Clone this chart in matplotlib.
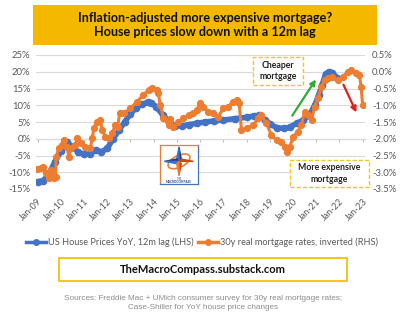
import matplotlib
matplotlib.use("Agg")
import matplotlib.pyplot as plt
import matplotlib.patches as patches
from matplotlib.lines import Line2D

plt.rcParams['font.family'] = ['Lato', 'DejaVu Sans']

# Daten, x = Jahr als Dezimalzahl
house_x = [2009.0, 2009.25, 2009.5, 2009.75, 2010.0, 2010.25, 2010.5, 2010.75,
           2011.0, 2011.25, 2011.5, 2011.75, 2012.0, 2012.25, 2012.5, 2012.75,
           2013.0, 2013.25, 2013.5, 2013.75, 2013.9, 2014.1, 2014.4, 2014.7,
           2014.9, 2015.2, 2015.5, 2015.85, 2016.2, 2016.6, 2017.0, 2017.5,
           2018.0, 2018.3, 2018.55, 2018.8, 2019.0, 2019.3, 2019.6, 2019.85,
           2020.15, 2020.45, 2020.7, 2020.95, 2021.1, 2021.25, 2021.4, 2021.55,
           2021.7, 2021.9]
house_yoy = [-12.8, -12.5, -10.3, -6.8, -3.8, -1.0, -2.4, -4.0,
             -4.6, -4.6, -3.4, -3.9, -2.9, 0.0, 2.5, 5.0,
             7.5, 9.3, 10.3, 10.9, 10.8, 9.5, 7.1, 4.6,
             3.9, 3.8, 4.2, 4.6, 5.0, 5.3, 5.6, 6.0,
             6.4, 6.8, 7.0, 5.6, 4.4, 3.3, 3.1, 3.4,
             4.6, 5.6, 7.0, 10.2, 13.0, 16.0, 19.3, 20.0,
             19.6, 18.2]

mort_x = [2008.96, 2009.13, 2009.24, 2009.34, 2009.49, 2009.59, 2009.7, 2009.77,
          2009.8, 2009.9, 2010.06, 2010.13, 2010.27, 2010.34, 2010.44, 2010.63,
          2010.7, 2010.85, 2011.06, 2011.27, 2011.35, 2011.42, 2011.56, 2011.7,
          2011.78, 2011.92, 2012.06, 2012.2, 2012.35, 2012.45, 2012.53, 2012.7,
          2013.0, 2013.28, 2013.56, 2013.78, 2013.92, 2014.14, 2014.2, 2014.28,
          2014.42, 2014.64, 2014.7, 2014.85, 2015.06, 2015.28, 2015.5, 2015.7,
          2015.85, 2016.0, 2016.14, 2016.35, 2016.57, 2016.78, 2017.0, 2017.2,
          2017.42, 2017.57, 2017.68, 2017.78, 2018.0, 2018.28, 2018.5, 2018.64,
          2018.85, 2019.07, 2019.3, 2019.5, 2019.64, 2019.74, 2019.86, 2020.0,
          2020.2, 2020.36, 2020.5, 2020.64, 2020.8, 2020.93, 2021.07, 2021.22,
          2021.36, 2021.5, 2021.7, 2021.93, 2022.14, 2022.36, 2022.5, 2022.7,
          2022.86, 2022.93, 2023.0]
mort_real_inv = [-2.91, -2.88, -2.83, -3.03, -3.18, -2.93, -3.18, -3.13,
                 -2.54, -2.29, -2.19, -2.04, -2.24, -2.54, -2.29, -2.19,
                 -1.99, -2.14, -2.24, -2.29, -1.99, -1.69, -1.49, -1.44,
                 -1.74, -1.94, -1.99, -1.84, -1.59, -1.64, -1.24, -1.24,
                 -1.09, -0.89, -0.69, -0.54, -0.49, -0.54, -0.64, -0.99,
                 -1.39, -1.59, -1.40, -1.64, -1.49, -1.39, -1.29, -1.24,
                 -1.14, -0.94, -1.04, -1.19, -1.24, -1.34, -1.09, -1.04,
                 -0.89, -0.84, -0.94, -1.74, -1.69, -1.59, -1.39, -1.29,
                 -1.54, -1.89, -2.04, -2.09, -2.24, -2.39, -2.24, -1.94,
                 -1.79, -1.59, -1.19, -1.29, -1.44, -1.04, -0.79, -0.45,
                 -0.25, -0.20, -0.17, -0.25, -0.15, 0.00, 0.05, -0.05,
                 -0.10, -0.45, -0.99]

years = list(range(2009, 2024))
year_labels = ['Jan-%02d' % (y % 100) for y in years]
lhs_ticks = [25, 20, 15, 10, 5, 0, -5, -10, -15]
rhs_ticks = [0.5, 0.0, -0.5, -1.0, -1.5, -2.0, -2.5, -3.0, -3.5]

BLUE = '#4472C4'
ORANGE = '#ED7D31'
GREY = '#595959'
GOLD = '#F5B800'

W, H = 402, 323
fig = plt.figure(figsize=(W / 100, H / 100), dpi=100)
fig.patch.set_facecolor('white')


def fx(px):
    return px / W


def fy(py):
    return 1 - py / H


# Titel-Box
fig.patches.append(patches.Rectangle((fx(33), fy(45)), fx(377) - fx(33), fy(5) - fy(45),
                                     transform=fig.transFigure, facecolor=GOLD,
                                     edgecolor='none'))
fig.text(fx(205), fy(25), 'Inflation-adjusted more expensive mortgage?\nHouse prices slow down with a 12m lag',
         ha='center', va='center', fontsize=9.1, fontweight='bold', color='#111111',
         linespacing=1.3)

# Hauptachse
ax = fig.add_axes([fx(36), fy(189), fx(365) - fx(36), fy(55) - fy(189)])
ax.set_xlim(2008.93, 2023.1)
ax.set_ylim(-15, 25)
ax.set_yticks(lhs_ticks)
ax.set_yticklabels(['%d%%' % t for t in lhs_ticks])
ax.grid(True, axis='y', color='#D9D9D9', linewidth=0.8)
ax.set_axisbelow(True)
for s in ax.spines.values():
    s.set_visible(False)
ax.tick_params(axis='y', length=0, labelsize=6.8, labelcolor=GREY, pad=4)
ax.set_xticks(years)
ax.set_xticklabels(year_labels, rotation=45, ha='right', rotation_mode='anchor')
ax.tick_params(axis='x', length=0, labelsize=6.5, labelcolor=GREY, pad=6)

# Kategorieachse bei 0%
sec = ax.secondary_xaxis(15 / 40)
sec.set_xticks(years)
sec.tick_params(axis='x', length=2.5, color='#BFBFBF', labelbottom=False, direction='out')
sec.spines['bottom'].set_color('#BFBFBF')
sec.spines['bottom'].set_linewidth(0.8)

ax.plot(house_x, house_yoy, color=BLUE, linewidth=4, marker='o', markersize=4.5,
        zorder=3, solid_capstyle='round')

ax2 = ax.twinx()
ax2.set_ylim(-3.5, 0.5)
ax2.set_yticks(rhs_ticks)
ax2.set_yticklabels(['%.1f%%' % t for t in rhs_ticks])
for s in ax2.spines.values():
    s.set_visible(False)
ax2.tick_params(axis='y', length=0, labelsize=6.8, labelcolor=GREY, pad=5)
ax2.plot(mort_x, mort_real_inv, color=ORANGE, linewidth=2.2, marker='o', markersize=4.2,
         zorder=4)

# Pfeile (in LHS-Koordinaten, über beiden Linien)
ax2.annotate('', xy=(2021.05, 18.4), xytext=(2019.9, 6.2),
             xycoords=ax.transData, textcoords=ax.transData,
             arrowprops=dict(arrowstyle='-|>', color='#33AA33', lw=1.6,
                             mutation_scale=8), zorder=6)
ax2.annotate('', xy=(2022.78, 7.1), xytext=(2022.12, 16.9),
             xycoords=ax.transData, textcoords=ax.transData,
             arrowprops=dict(arrowstyle='-|>', color='#E0201B', lw=1.6,
                             mutation_scale=8), zorder=6)

# Logo
lax = fig.add_axes([fx(160), fy(184), fx(198) - fx(160), fy(145) - fy(184)])
lax.set_xlim(0, 1)
lax.set_ylim(0, 1)
lax.set_facecolor('white')
for name, s in lax.spines.items():
    s.set_color(ORANGE if name in ('top', 'left') else BLUE)
    s.set_linewidth(0.9)
lax.set_xticks([])
lax.set_yticks([])
cx, cy = 0.5, 0.58
lax.add_patch(patches.Ellipse((cx, cy), 0.62, 0.3, angle=25, fill=False,
                              edgecolor=ORANGE, linewidth=1.2))
lax.add_patch(patches.Polygon([(cx, 0.95), (cx + 0.06, cy + 0.06), (cx, cy)], color='#1F3F8F'))
lax.add_patch(patches.Polygon([(cx, 0.95), (cx - 0.06, cy + 0.06), (cx, cy)], color='#3B6FD0'))
lax.add_patch(patches.Polygon([(0.12, cy), (cx - 0.06, cy + 0.06), (cx, cy)], color='#1F3F8F'))
lax.add_patch(patches.Polygon([(0.12, cy), (cx - 0.06, cy - 0.06), (cx, cy)], color='#3B6FD0'))
lax.add_patch(patches.Polygon([(0.88, cy), (cx + 0.06, cy + 0.06), (cx, cy)], color='#C84A10'))
lax.add_patch(patches.Polygon([(cx, 0.22), (cx + 0.06, cy - 0.06), (cx, cy)], color='#C84A10'))
lax.add_patch(patches.Polygon([(cx, 0.22), (cx - 0.06, cy - 0.06), (cx, cy)], color=ORANGE))
lax.text(0.5, 0.13, 'THE', ha='center', va='center', fontsize=2, color='#1F3F8F')
lax.text(0.5, 0.05, 'MACROCOMPASS', ha='center', va='center', fontsize=2.2,
         color='#1F3F8F', fontweight='bold')

# Annotations-Boxen
for (x0, y0, x1, y1, txt) in [(253, 57, 303, 85, 'Cheaper\nmortgage'),
                              (290, 160, 369, 187, 'More expensive\nmortgage')]:
    fig.patches.append(patches.Rectangle((fx(x0), fy(y1)), fx(x1) - fx(x0), fy(y0) - fy(y1),
                                         transform=fig.transFigure, facecolor='white',
                                         edgecolor='#F5C518', linewidth=1.0,
                                         linestyle=(0, (3, 1.5)), zorder=5))
    fig.text(fx((x0 + x1) / 2), fy((y0 + y1) / 2), txt, ha='center', va='center',
             fontsize=6.3, fontweight='bold', color='#222222', zorder=6, linespacing=1.3)

# Legende
handles = [Line2D([0], [0], color=BLUE, lw=2.5, marker='o', markersize=4),
           Line2D([0], [0], color=ORANGE, lw=2.5, marker='o', markersize=4)]
fig.legend(handles, ['US House Prices YoY, 12m lag (LHS)',
                     '30y real mortgage rates, inverted (RHS)'],
           loc='center', bbox_to_anchor=(fx(202), fy(242)), ncol=2, frameon=False,
           fontsize=6.6, labelcolor=GREY, handlelength=2.2, handletextpad=0.2,
           columnspacing=0.5)

# Website-Box
fig.patches.append(patches.Rectangle((fx(59), fy(281)), fx(347) - fx(59), fy(258) - fy(281),
                                     transform=fig.transFigure, facecolor='white',
                                     edgecolor='#F5C518', linewidth=1.4))
fig.text(fx(203), fy(269.5), 'TheMacroCompass.substack.com', ha='center', va='center',
         fontsize=8, fontweight='bold', color='#111111')

# Quellen
fig.text(fx(203), fy(303), 'Sources: Freddie Mac + UMich consumer survey for 30y real mortgage rates;\n'
         'Case-Shiller for YoY house price changes', ha='center', va='center',
         fontsize=5.9, color='#8C8C8C', family='Liberation Sans', linespacing=1.5)

fig.savefig('out.png', dpi=100, facecolor='white')
